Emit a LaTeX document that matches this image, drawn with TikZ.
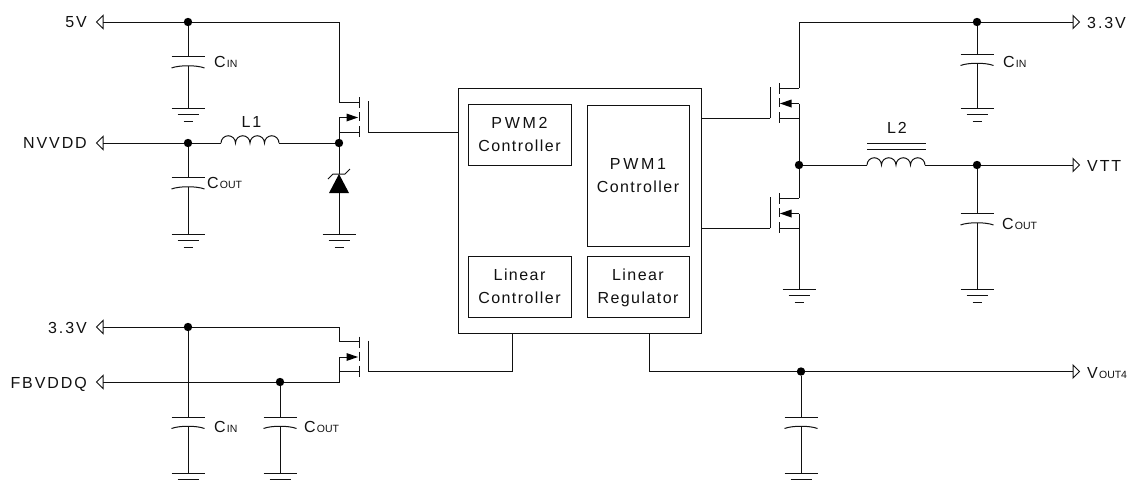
\documentclass[tikz,border=0pt]{standalone}
\usepackage{fontspec}
\newfontfamily\lblfam[LetterSpace=12]{Liberation Sans}
\newfontfamily\boxfam[LetterSpace=9]{Liberation Sans}
\newfontfamily\pwmfam[LetterSpace=17]{Liberation Sans}
\newfontfamily\plainfam{Liberation Sans}
\newcommand{\lblfont}{\lblfam\fontsize{16}{23}\selectfont}
\newcommand{\boxfont}{\boxfam\fontsize{16}{23}\selectfont}
\newcommand{\pwm}[1]{{\pwmfam\fontsize{16}{23}\selectfont #1}}
\newcommand{\subtxt}[2]{{\plainfam\fontsize{16}{16}\selectfont #1\kern1.2pt\fontsize{10.5}{11}\selectfont #2}}
\definecolor{ink}{HTML}{111111}
\tikzset{
  wire/.style={draw=ink,line width=1pt},
  dot/.style={circle,fill=black,inner sep=0pt,minimum size=8.4pt},
  lbl/.style={inner sep=0pt,text=ink,font=\lblfont},
  sublbl/.style={anchor=base west,inner sep=0pt,text=ink},
  ic/.style={draw=ink,line width=1pt,fill=white,inner sep=0pt},
  blk/.style={draw=ink,line width=1pt,fill=white,inner sep=0pt,align=center,font=\boxfont,text=ink,text depth=0pt},
  pics/capa/.style={code={
    \coordinate (-top) at (0,0);
    \coordinate (-bot) at (0,9);
    \draw[wire] (-16.5,0) -- (16.5,0);
    \draw[wire] (-16.5,11.5) .. controls (-9,8.5) and (9,8.5) .. (16.5,11.5);
  }},
  pics/gnda/.style={code={
    \coordinate (-in) at (0,0);
    \draw[wire] (-16.5,0) -- (16.5,0);
    \draw[wire] (-10.5,6.5) -- (10.5,6.5);
    \draw[wire] (-4.5,13) -- (4.5,13);
  }},
  pics/gndb/.style={code={
    \coordinate (-in) at (0,0);
    \draw[wire] (-16.5,0) -- (16.5,0);
    \draw[wire] (-10.5,6.5) -- (10.5,6.5);
  }},
  pics/porta/.style={code={
    \coordinate (-in) at (0,0);
    \draw[wire,fill=white] (0,-6.5) -- (6.5,0) -- (0,6.5) -- cycle;
  }},
  pics/feta/.style={code={
    \coordinate (-t) at (-20,0);
    \coordinate (-m) at (-20,15.5);
    \coordinate (-b) at (-20,30);
    \coordinate (-g) at (9,30);
    \draw[wire] (0,-5) -- (0,6) (0,10) -- (0,19) (0,24) -- (0,35);
    \draw[wire] (9,-1) -- (9,30);
    \draw[wire] (0,0) -- (-t);
    \draw[wire] (0,30) -- (-b);
    \draw[wire] (-12,15.5) -- (-m);
    \fill[black] (-1,15.5) -- (-12.5,11.5) -- (-12.5,19.5) -- cycle;
  }},
  pics/coil/.style={code={
    \coordinate (-a) at (0,0);
    \coordinate (-b) at (58,0);
    \draw[wire] (0,0) arc[start angle=180,end angle=0,radius=7.25pt]
      arc[start angle=180,end angle=0,radius=7.25pt]
      arc[start angle=180,end angle=0,radius=7.25pt]
      arc[start angle=180,end angle=0,radius=7.25pt];
  }}
}
\begin{document}
\begin{tikzpicture}[x=1pt,y=-1pt]
\useasboundingbox (0,0) rectangle (1128,483);

% controller
\node[ic,minimum width=243pt,minimum height=245pt] (chip) at (579.5,210.5) {};
\node[blk,minimum width=103pt,minimum height=61pt] (pwm2) at (519.5,134.5) {\pwm{PWM2}\\Controller};
\node[blk,minimum width=102pt,minimum height=141pt] (pwm1) at (638,175.5) {\pwm{PWM1}\\Controller};
\node[blk,minimum width=103pt,minimum height=61pt] (lctl) at (519.5,286.5) {Linear\\Controller};
\node[blk,minimum width=102pt,minimum height=61pt] (lreg) at (638,286.5) {Linear\\Regulator};
\coordinate (chipA) at (512,333);
\coordinate (chipB) at (649,333);

% ---------- top left
\pic (p5) at (103,22) [xscale=-1] {porta};
\node[lbl,anchor=base east] (t5) at (87,27.5) {5V};
\node[dot] (j1) at (188,22) {};
\pic (c1) at (188,56.5) {capa};
\pic (g1) at (188,108) {gnda};
\node[sublbl] (c1t) at (214,67) {\subtxt{C}{IN}};
\pic (q1) at (359,102) {feta};
\draw[wire] (p5-in) -- (j1) -- (j1 -| q1-t) -- (q1-t);
\draw[wire] (j1) -- (c1-top);
\draw[wire] (c1-bot) -- (g1-in);

\pic (p6) at (103,143) [xscale=-1] {porta};
\node[lbl,anchor=base east] (t6) at (87,148.5) {NVVDD};
\node[dot] (j2) at (188,143) {};
\node[dot] (j3) at (339,143) {};
\pic (l1) at (221,143) {coil};
\node[lbl,anchor=base] (l1t) at (251.5,127) {L1};
\pic (c2) at (188,177.5) {capa};
\pic (g2) at (188,234) {gnda};
\node[sublbl] (c2t) at (207,188) {\subtxt{C}{OUT}};
\draw[wire] (p6-in) -- (j2) -- (l1-a);
\draw[wire] (l1-b) -- (j3);
\draw[wire] (j2) -- (c2-top);
\draw[wire] (c2-bot) -- (g2-in);
\draw[wire] (q1-m) -- (j3);
\draw[wire] (q1-g) -- (q1-g -| chip.west);

% zener
\coordinate (zk) at (339,174);
\coordinate (za) at (339,193);
\pic (g3) at (339,234) {gnda};
\fill[black] (zk) -- (349,193) -- (329,193) -- cycle;
\draw[wire] (328,179) -- (333,174) -- (345,174) -- (350,169);
\draw[wire] (j3) -- (zk);
\draw[wire] (za) -- (g3-in);

% ---------- bottom left
\pic (p7) at (103,327) [xscale=-1] {porta};
\node[lbl,anchor=base east] (t7) at (87,333) {3.3V};
\pic (p8) at (103,382) [xscale=-1] {porta};
\node[lbl,anchor=base east] (t8) at (87,388) {FBVDDQ};
\node[dot] (j4) at (188,327) {};
\node[dot] (j5) at (280,382) {};
\pic (q3) at (359,341.5) {feta};
\pic (c3) at (188,417) {capa};
\pic (g4) at (188,473) {gndb};
\pic (c4) at (280,417) {capa};
\pic (g5) at (280,473) {gndb};
\node[sublbl] (c3t) at (214,432) {\subtxt{C}{IN}};
\node[sublbl] (c4t) at (304,432) {\subtxt{C}{OUT}};
\coordinate (k8) at (339,382);
\draw[wire] (p7-in) -- (j4) -- (j4 -| q3-t) -- (q3-t);
\draw[wire] (p8-in) -- (j5) -- (k8) -- (q3-m);
\draw[wire] (j4) -- (c3-top);
\draw[wire] (c3-bot) -- (g4-in);
\draw[wire] (j5) -- (c4-top);
\draw[wire] (c4-bot) -- (g5-in);
\draw[wire] (q3-g) -| (chipA);

% ---------- top right
\pic (p1) at (1073,22) {porta};
\node[lbl,anchor=base west] (t1) at (1087,28) {3.3V};
\pic (p2) at (1073,165) {porta};
\node[lbl,anchor=base west] (t2) at (1087,171) {VTT};
\node[dot] (j6) at (977,22) {};
\node[dot] (j7) at (799,165) {};
\node[dot] (j8) at (977,165) {};
\pic[xscale=-1] (q4) at (779,88) {feta};
\pic[xscale=-1] (q5) at (779,198) {feta};
\pic (c5) at (977,54) {capa};
\pic (g6) at (977,108) {gnda};
\pic (c6) at (977,213.5) {capa};
\pic (g7) at (977,289) {gnda};
\pic (g8) at (799,289) {gnda};
\node[sublbl] (c5t) at (1003,67) {\subtxt{C}{IN}};
\node[sublbl] (c6t) at (1002,229) {\subtxt{C}{OUT}};
\pic (l2) at (867,165) {coil};
\node[lbl,anchor=base] (l2t) at (897,133) {L2};
\draw[wire] (867,143.5) -- (926,143.5) (867,149) -- (926,149);
\draw[wire] (p1-in) -- (j6) -- (j6 -| q4-t) -- (q4-t);
\draw[wire] (j6) -- (c5-top);
\draw[wire] (c5-bot) -- (g6-in);
\draw[wire] (q4-m) -- (j7);
\draw[wire] (q5-t) -- (j7);
\draw[wire] (q5-m) -- (g8-in);
\draw[wire] (j7) -- (l2-a);
\draw[wire] (l2-b) -- (j8) -- (p2-in);
\draw[wire] (j8) -- (c6-top);
\draw[wire] (c6-bot) -- (g7-in);
\draw[wire] (q4-g) -- (q4-g -| chip.east);
\draw[wire] (q5-g) -- (q5-g -| chip.east);

% ---------- bottom right
\pic (p3) at (1073,371.5) {porta};
\node[sublbl] (t3) at (1087,378) {\subtxt{V}{OUT4}};
\node[dot] (j9) at (801,371.5) {};
\pic (c7) at (801,417) {capa};
\pic (g9) at (801,473) {gndb};
\draw[wire] (chipB) |- (j9) -- (p3-in);
\draw[wire] (j9) -- (c7-top);
\draw[wire] (c7-bot) -- (g9-in);
\end{tikzpicture}
\end{document}
